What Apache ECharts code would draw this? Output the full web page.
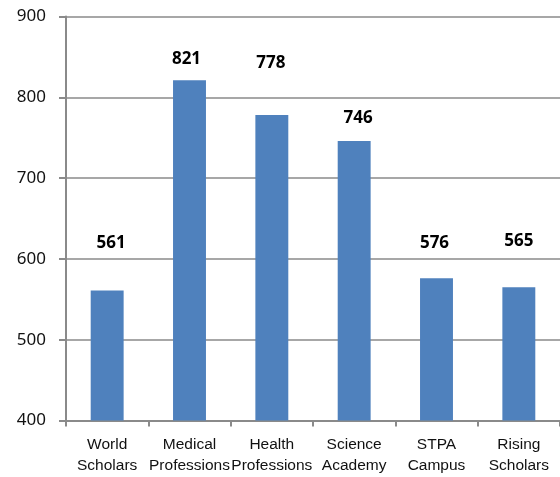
<!DOCTYPE html>
<html>
<head>
<meta charset="utf-8">
<script src="https://cdn.jsdelivr.net/npm/echarts@6/dist/echarts.min.js"></script>
<style>html,body{margin:0;padding:0;background:#fff}#c{width:560px;height:477px}</style>
</head>
<body>
<div id="c"></div>
<script>
var categories = ['World\nScholars', 'Medical\nProfessions', 'Health\nProfessions', 'Science\nAcademy', 'STPA\nCampus', 'Rising\nScholars'];
var values = [561, 821, 778, 746, 576, 565];
var yTicks = [400, 500, 600, 700, 800, 900];
// manual label nudges (pixels), as in the original chart
var labelNudgeX = [4, -3, -1, 4, -2, 0];
var labelNudgeY = [-39, -13, -43, -14, -27, -38];

var chart = echarts.init(document.getElementById('c'));
chart.setOption({
  animation: false,
  grid: { left: 66, top: 16.5, bottom: 56.5, width: 498 },
  xAxis: {
    type: 'category',
    data: categories,
    axisLine: { lineStyle: { color: '#8a8a8a', width: 2 } },
    axisTick: { show: true, length: 6, alignWithLabel: false, lineStyle: { color: '#8a8a8a', width: 2 } },
    axisLabel: { interval: 0, color: '#111', fontFamily: '"Liberation Sans", Arial, sans-serif', fontSize: 15.5, lineHeight: 21, margin: 14 }
  },
  yAxis: {
    type: 'value',
    min: yTicks[0],
    max: yTicks[yTicks.length - 1],
    interval: 100,
    axisLine: { show: true, lineStyle: { color: '#8a8a8a', width: 2 } },
    axisTick: { show: true, length: 7, lineStyle: { color: '#8a8a8a', width: 2 } },
    axisLabel: { color: '#111', fontFamily: '"Noto Sans", sans-serif', fontSize: 17, margin: 20 },
    splitLine: { show: true, lineStyle: { color: '#8a8a8a', width: 1.5 } }
  },
  series: [{
    type: 'bar',
    barWidth: '40%',
    itemStyle: { color: '#4F81BD' },
    data: values.map(function (v, i) {
      return {
        value: v,
        label: {
          show: true,
          position: 'top',
          distance: 0,
          offset: [labelNudgeX[i], labelNudgeY[i]],
          color: '#000',
          fontWeight: 'bold',
          fontFamily: '"Noto Sans", sans-serif',
          fontSize: 17
        }
      };
    })
  }]
});
</script>
</body>
</html>
